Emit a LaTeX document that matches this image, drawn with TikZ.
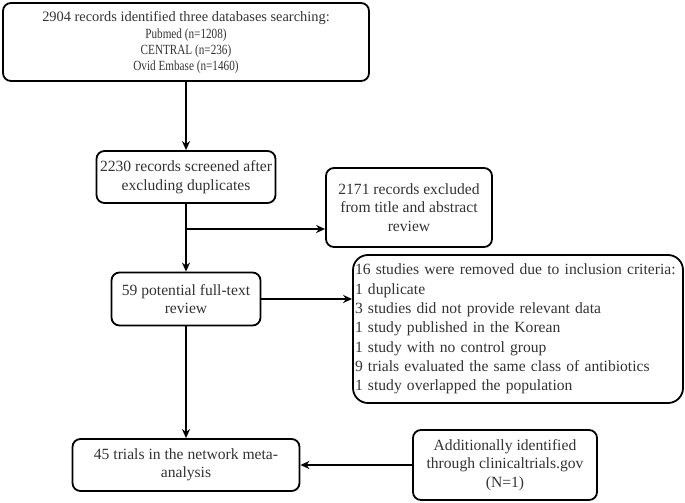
\documentclass[tikz,border=0pt]{standalone}
\usepackage{fontspec}
\setmainfont{Liberation Serif}
\newfontfamily\narrowserif[FakeStretch=0.8]{Liberation Serif}
\usetikzlibrary{arrows.meta}
\begin{document}
\begin{tikzpicture}[x=1pt,y=-1pt,
  box/.style={draw, line width=1.8pt, rounded corners=8pt, align=center, inner sep=1pt, text=black!80, font=\fontsize{15.6}{18.5}\selectfont},
  arr/.style={line width=2pt, -{Stealth[length=9pt,width=8pt]}},
]
\useasboundingbox (0,0) rectangle (685,503);
\node[box, minimum width=366pt, minimum height=78pt, font=\narrowserif\fontsize{14}{16}\selectfont] (b1) at (186,42)
  {{\normalfont\fontsize{14.4}{18}\selectfont 2904 records identified three databases searching:}\\[1pt]
   Pubmed (n=1208)\\ CENTRAL (n=236)\\ Ovid Embase (n=1460)};
\node[box, minimum width=179pt, minimum height=52pt] (b2) at (186,177)
  {2230 records screened after\\ excluding duplicates};
\node[box, minimum width=166pt, minimum height=79pt] (b3) at (409,207.5)
  {2171 records excluded\\ from title and abstract\\ review};
\node[box, minimum width=149pt, minimum height=53pt] (b4) at (186,299)
  {59 potential full-text\\ review};
\node[box, rounded corners=15pt, minimum width=330pt, minimum height=148pt, text width=326pt, align=left, font=\fontsize{15.6}{19.3}\selectfont] (b5) at (518,329)
  {16 studies were removed due to inclusion criteria:\\
   1 duplicate\\
   3 studies did not provide relevant data\\
   1 study published in the Korean\\
   1 study with no control group\\
   9 trials evaluated the same class of antibiotics\\
   1 study overlapped the population};
\node[box, minimum width=227pt, minimum height=52pt] (b6) at (186,465)
  {45 trials in the network meta-\\ analysis};
\node[box, minimum width=184pt, minimum height=70pt] (b7) at (505,465)
  {Additionally identified\\ through clinicaltrials.gov\\ (N=1)};
\coordinate (j1) at (186,229);
\draw[arr] (b1.south) -- (b2.north);
\draw[arr] (b2.south) -- (b4.north);
\draw[arr] (j1) -- (j1 -| b3.west);
\draw[arr] (b4.south) -- (b6.north);
\draw[arr] (b4.east) -- (b4.east -| b5.west);
\draw[arr] (b7.west) -- (b6.east);
\end{tikzpicture}
\end{document}
